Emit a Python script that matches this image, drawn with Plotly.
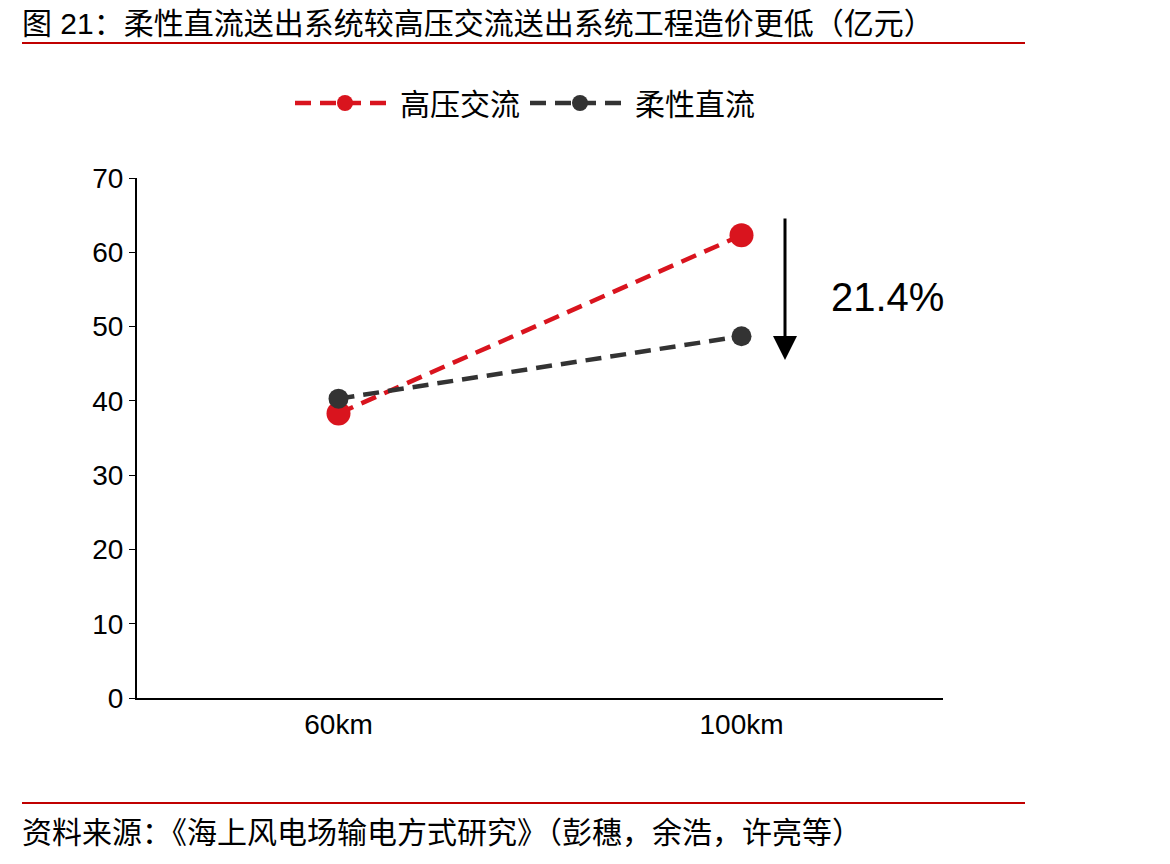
import plotly.graph_objects as go

categories = ["60km", "100km"]
hvac = [38.3, 62.3]
vsc_dc = [40.3, 48.7]
names = ["高压交流", "柔性直流"]

FONT = "Liberation Sans, Noto Sans CJK SC, sans-serif"

# page offset (body margin) is 8px
OFF = 8
# plot area in pixels (reference coordinates)
L, R, T, B = 137, 943, 178, 698


def px_x(p):
    return (p - L) / (R - L)


def px_y(p):
    return (B - p) / (B - T)


fig = go.Figure()
fig.add_trace(go.Scatter(
    x=categories, y=hvac, name=names[0], mode="lines+markers",
    line=dict(color="#d9141e", width=4.5, dash="16px,9px"),
    marker=dict(size=24, color="#d9141e"),
))
fig.add_trace(go.Scatter(
    x=categories, y=vsc_dc, name=names[1], mode="lines+markers",
    line=dict(color="#333333", width=4.5, dash="16px,9px"),
    marker=dict(size=20, color="#333333"),
))

fig.update_layout(
    width=1170, height=864,
    margin=dict(l=L - OFF, r=1170 - R + OFF, t=T - OFF, b=864 - B + OFF),
    paper_bgcolor="white", plot_bgcolor="white",
    font=dict(family=FONT, size=28, color="black"),
    showlegend=True,
    legend=dict(orientation="h", x=px_x(525), xanchor="center",
                y=px_y(103), yanchor="middle", font=dict(size=30),
                itemwidth=100),
    xaxis=dict(showline=True, linecolor="black", linewidth=2,
               range=[-0.5, 1.5], showgrid=False, ticks="",
               tickfont=dict(size=28)),
    yaxis=dict(range=[0, 70], dtick=10, showline=True, linecolor="black",
               linewidth=2, showgrid=False, ticks="outside", ticklen=6,
               tickcolor="black", tickfont=dict(size=28), zeroline=False),
)

fig.add_annotation(xref="paper", yref="paper", x=px_x(20), y=px_y(24),
                   xanchor="left", yanchor="middle", showarrow=False,
                   text="图 21：柔性直流送出系统较高压交流送出系统工程造价更低（亿元）",
                   font=dict(size=30))
fig.add_annotation(xref="paper", yref="paper", x=px_x(20), y=px_y(832),
                   xanchor="left", yanchor="middle", showarrow=False,
                   text="资料来源：《海上风电场输电方式研究》（彭穗，余浩，许亮等）",
                   font=dict(size=30))
fig.add_shape(type="line", xref="paper", yref="paper",
              x0=px_x(22), x1=px_x(1025), y0=px_y(43), y1=px_y(43),
              line=dict(color="#c00000", width=2))
fig.add_shape(type="line", xref="paper", yref="paper",
              x0=px_x(22), x1=px_x(1025), y0=px_y(803), y1=px_y(803),
              line=dict(color="#c00000", width=2))

# arrow and percentage
fig.add_annotation(xref="paper", yref="paper", x=px_x(785), y=px_y(360),
                   ax=0, ay=-143, showarrow=True, arrowhead=2,
                   arrowsize=1.6, arrowwidth=3, arrowcolor="black", text="")
fig.add_annotation(xref="paper", yref="paper", x=px_x(887), y=px_y(297),
                   xanchor="center", yanchor="middle",
                   showarrow=False, text="21.4%", font=dict(size=40))

fig.write_html("out.html")
